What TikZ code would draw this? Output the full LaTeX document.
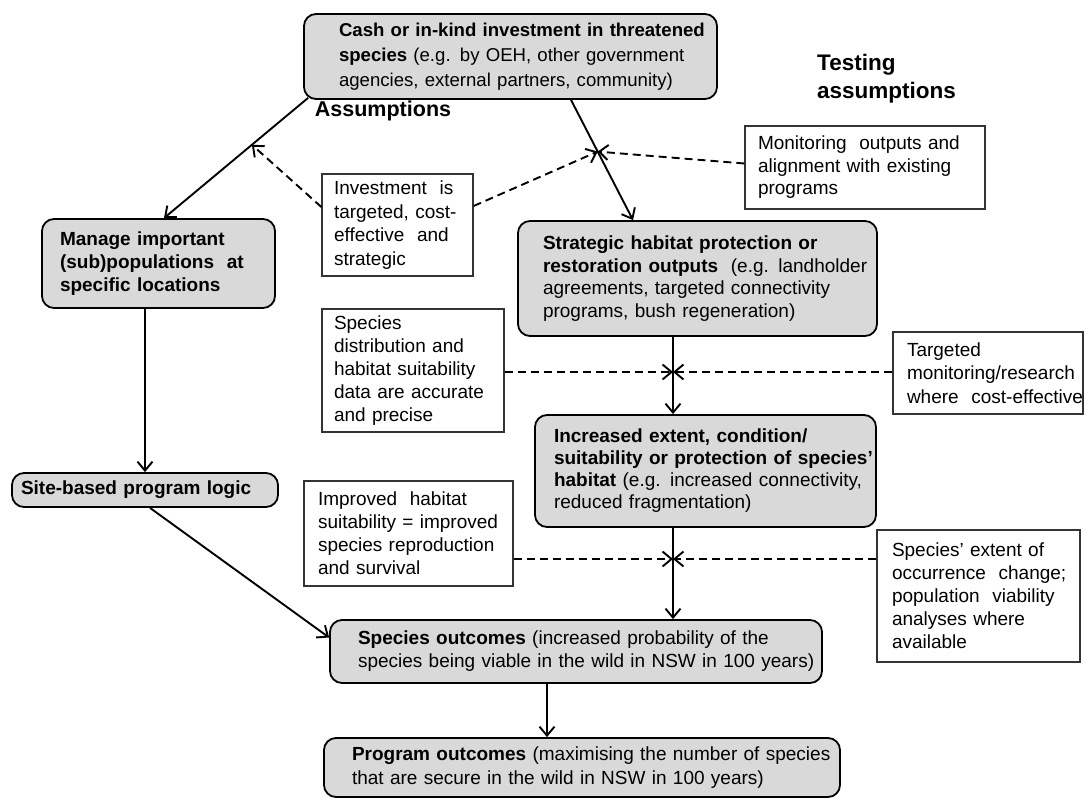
\documentclass[tikz,border=0pt]{standalone}
\usepackage{fontspec}
\setmainfont{Liberation Sans}
\usetikzlibrary{arrows.meta,calc}
\definecolor{boxgray}{HTML}{D9D9D9}
\definecolor{edgegray}{HTML}{333333}
\newcommand\oneline[1]{\mbox{#1}}
\begin{document}
\begin{tikzpicture}[x=1pt,y=-1pt,
  gbox/.style={draw=black, line width=1.8pt, fill=boxgray, rounded corners=12pt, inner sep=0pt, align=left},
  wbox/.style={draw=edgegray, line width=1.3pt, fill=white, inner sep=0pt, align=left},
  arr/.style={line width=1.9pt, -{Straight Barb[length=9pt,width=15pt]}},
  darr/.style={line width=1.9pt, dash pattern=on 8pt off 5pt, -{Straight Barb[length=9pt,width=15pt]}},
  hdr/.style={font=\fontsize{#1}{28}\selectfont\bfseries, inner sep=0pt, align=left},
  f19/.style={font=\fontsize{19}{#1}\selectfont},
]
\path[use as bounding box, fill=white] (0,0) rectangle (1084,800);

% process boxes
\node[gbox, font=\fontsize{18.6}{25}\selectfont, minimum width=413pt, minimum height=85pt, text width=343pt] (top) at (510.5,56.5)
  {\oneline{\textbf{Cash or in-kind investment in threatened}}\\
   \oneline{\textbf{species} (e.g. by OEH, other government}\\
   \oneline{agencies, external partners, community)}};
\node[gbox, f19=23, minimum width=233pt, minimum height=89pt, text width=197pt] (manage) at (158.5,263.5)
  {\oneline{\textbf{Manage important}}\\
   \oneline{\textbf{(sub)populations\ \ at}}\\
   \oneline{\textbf{specific\ locations}}};
\node[gbox, f19=23, minimum width=266pt, minimum height=34pt, text width=248pt] (site) at (145,490)
  {\oneline{\textbf{Site-based program logic}}};
\node[gbox, f19=22.5, minimum width=359pt, minimum height=115pt, text width=309pt] (strat) at (697.5,278.5)
  {\oneline{\textbf{Strategic habitat protection\ or}}\\
   \oneline{\textbf{restoration\ outputs}\ \ (e.g. landholder}\\
   \oneline{agreements, targeted connectivity}\\
   \oneline{programs,\ bush\ regeneration)}};
\node[gbox, f19=22, minimum width=341pt, minimum height=112pt, text width=303pt] (incr) at (705.5,471)
  {\oneline{\textbf{Increased extent, condition/}}\\
   \oneline{\textbf{suitability or protection of species'}}\\
   \oneline{\textbf{habitat} (e.g. increased\ connectivity,}\\
   \oneline{reduced fragmentation)}};
\node[gbox, f19=23, minimum width=492pt, minimum height=63pt, text width=436pt] (spout) at (576,651.5)
  {\oneline{\textbf{Species outcomes} (increased\ probability\ of the}\\
   \oneline{species\ being viable\ in the wild in NSW in 100\ years)}};
\node[gbox, f19=24, minimum width=516pt, minimum height=59pt, text width=460pt] (prog) at (582,767.5)
  {\oneline{\textbf{Program outcomes}\ (maximising the number of species}\\
   \oneline{that are secure in the wild in NSW in 100\ years)}};

% assumption / testing boxes
\node[wbox, f19=23.5, minimum width=151pt, minimum height=102pt, text width=127pt] (inv) at (397.5,225)
  {\oneline{Investment\ \ is}\\ \oneline{targeted,\ cost-}\\ \oneline{effective\ \ and}\\ \oneline{strategic}};
\node[wbox, f19=23, minimum width=182pt, minimum height=123pt, text width=158pt] (sd) at (413,370.5)
  {\oneline{Species}\\ \oneline{distribution and}\\ \oneline{habitat suitability}\\ \oneline{data are accurate}\\ \oneline{and precise}};
\node[wbox, f19=23.5, minimum width=190pt, minimum height=82pt, text width=162pt] (targ) at (988,373)
  {\oneline{Targeted}\\ \oneline{monitoring/research}\\ \oneline{where\ \ cost-effective}};
\node[wbox, f19=22.5, minimum width=240pt, minimum height=83pt, text width=214pt] (mon) at (865,167.5)
  {\oneline{Monitoring\ \ outputs and}\\ \oneline{alignment with existing}\\ \oneline{programs}};
\node[wbox, f19=23, minimum width=209pt, minimum height=105pt, text width=181pt] (imp) at (408.5,533.5)
  {\oneline{Improved\ \ habitat}\\ \oneline{suitability = improved}\\ \oneline{species reproduction}\\ \oneline{and survival}};
\node[wbox, f19=23, minimum width=203pt, minimum height=132pt, text width=173pt] (ext) at (978.5,596)
  {\oneline{Species' extent of}\\ \oneline{occurrence\ \ change;}\\ \oneline{population\ \ viability}\\ \oneline{analyses where}\\ \oneline{available}};

% headings
\node[hdr=21.5] (lassump) at (383,111) {Assumptions};
\node[hdr=22.5, anchor=west] (ltest) at (817,79) {Testing\\assumptions};

% solid connectors
\coordinate (a1s) at ([xshift=5pt,yshift=2pt]top.south west);
\coordinate (a1e) at ([xshift=5.5pt]manage.north);
\coordinate (a2s) at ([xshift=60.5pt]top.south);
\coordinate (a2e) at ([xshift=-64.5pt]strat.north);
\coordinate (vx) at (673,0);
\coordinate (vx2) at (547,0);
\coordinate (j1) at (673,372);
\coordinate (j2) at (673,559);
\coordinate (m1) at ($(a1s)!0.39!(a1e)$);
\coordinate (m2) at ($(a2s)!0.43!(a2e)$);

\draw[arr] (a1s) -- (a1e);
\draw[arr] (a2s) -- (a2e);
\draw[arr] (site.north |- manage.south) -- (site.north);
\draw[arr] ([xshift=5pt]site.south) -- ([yshift=14pt]spout.west);
\draw[arr] (strat.south -| vx) -- (incr.north -| vx);
\draw[arr] (incr.south -| vx) -- (spout.north -| vx);
\draw[arr] (spout.south -| vx2) -- (prog.north -| vx2);

% dashed connectors
\draw[darr] ([yshift=18pt]inv.west) -- (m1);
\draw[darr] ([yshift=19pt]inv.east) -- (m2);
\draw[darr] ([yshift=4pt]mon.west) -- (m2);
\draw[darr] (sd.east |- j1) -- (j1);
\draw[darr] (targ.west |- j1) -- (j1);
\draw[darr] (imp.east |- j2) -- (j2);
\draw[darr] (ext.west |- j2) -- (j2);
\end{tikzpicture}
\end{document}
